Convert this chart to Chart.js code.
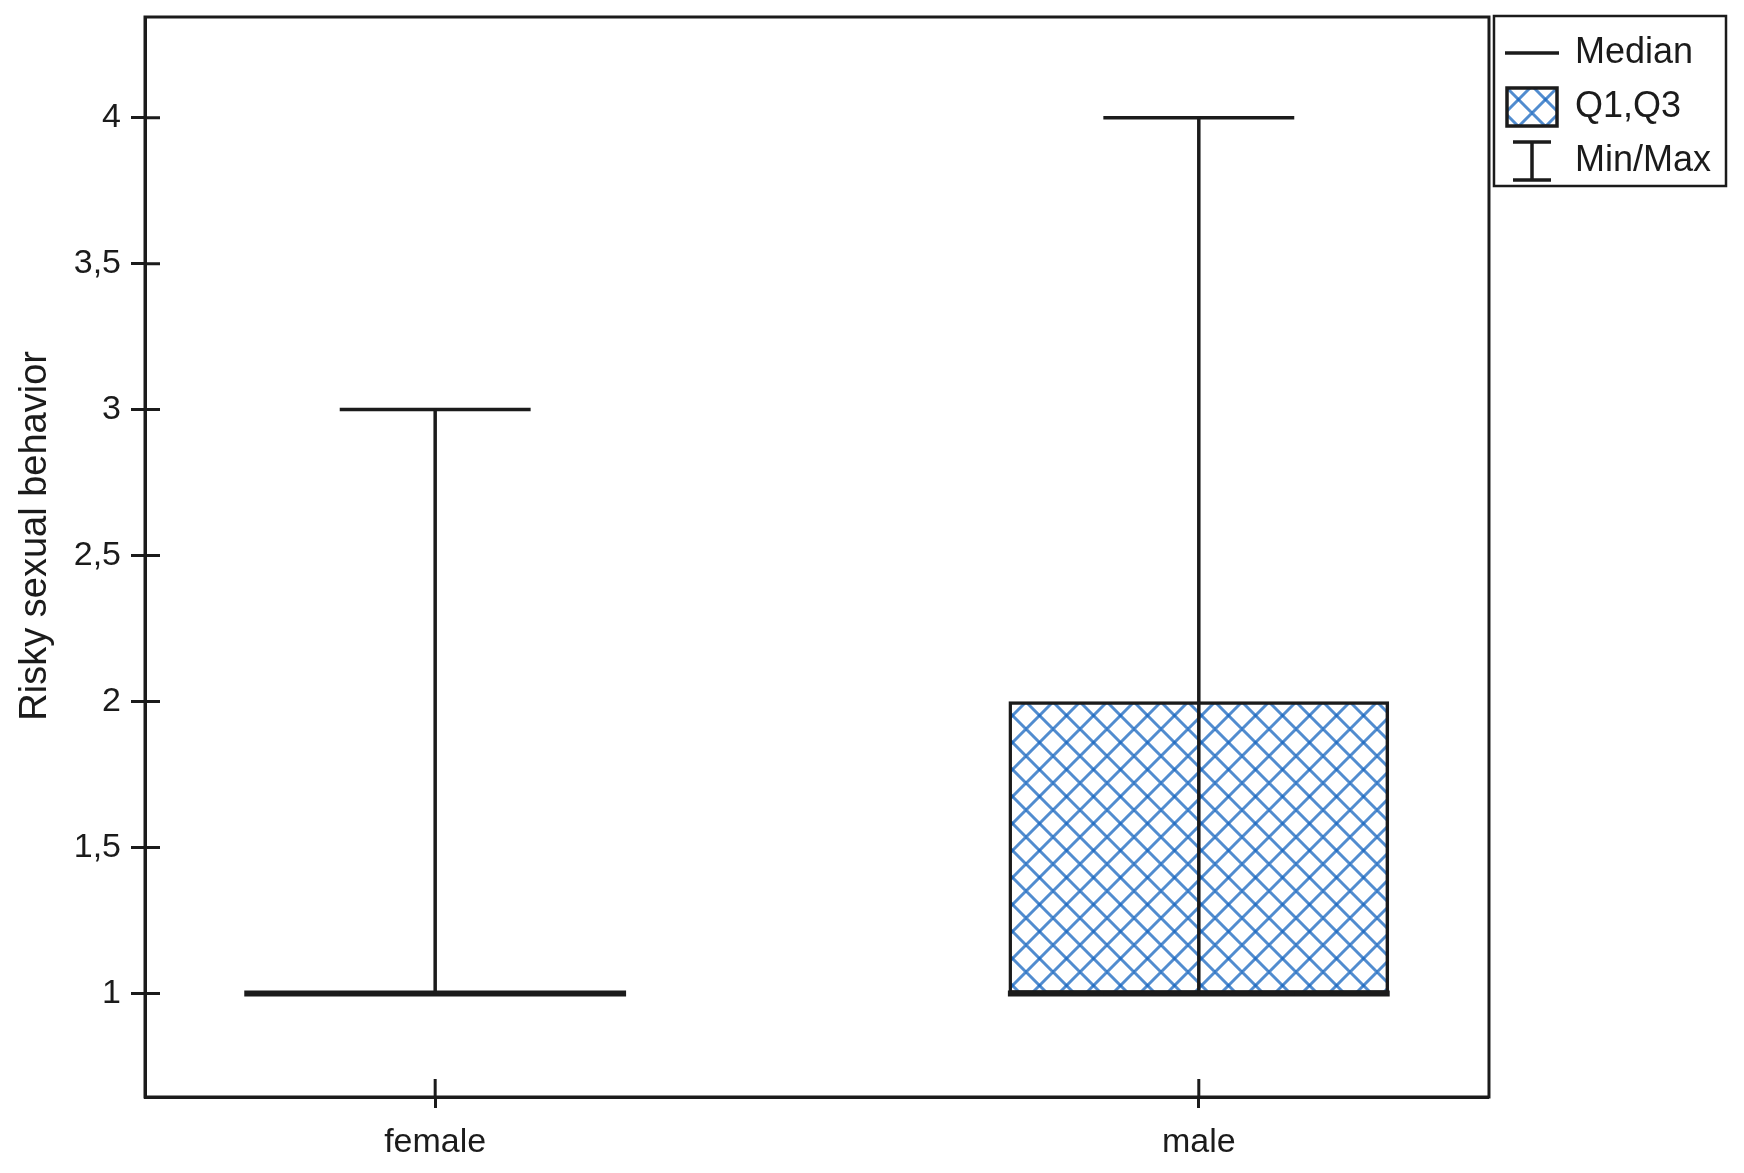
<!DOCTYPE html>
<html>
<head>
<meta charset="utf-8">
<script src="https://cdn.jsdelivr.net/npm/chart.js@4.4.1/dist/chart.umd.min.js"></script>
<style>
    html, body { margin: 0; padding: 0; background: #fff; }
    #wrap { width: 1744px; height: 1173px; }
</style>
</head>
<body>
<div id="wrap"><canvas id="chartBox"></canvas></div>
<script>
// values
const categories = ["female", "male"];
const minValues = [1, 1];
const q1Values = [1, 1];
const medianValues = [1, 1];
const q3Values = [1, 2];
const maxValues = [3, 4];
const yTickValues = [1, 1.5, 2, 2.5, 3, 3.5, 4];
const legendNames = ["Median", "Q1,Q3", "Min/Max"];

const ink = "#1b1b1b";
const BOX_HALF = 0.25;
const CAP_HALF = 0.125;

Chart.defaults.font.family = "'Liberation Sans', Arial, sans-serif";
Chart.defaults.color = ink;

// blue cross hatch used for the Q1-Q3 box
function makeHatch(size) {
    const c = document.createElement("canvas");
    c.width = size;
    c.height = size;
    const g = c.getContext("2d");
    g.fillStyle = "#fff";
    g.fillRect(0, 0, size, size);
    g.strokeStyle = "rgba(20,100,190,0.74)";
    g.lineWidth = 3;
    g.beginPath();
    for (let k = -1; k <= 1; k++) {
        g.moveTo(k * size, 0);
        g.lineTo(k * size + size, size);
    }
    g.stroke();
    g.beginPath();
    for (let k = -1; k <= 1; k++) {
        g.moveTo(k * size + size, 0);
        g.lineTo(k * size, size);
    }
    g.stroke();
    return g.createPattern(c, "repeat");
}
const hatch = makeHatch(27);

// legend symbols
function icon(w, h, draw) {
    const c = document.createElement("canvas");
    c.width = w;
    c.height = h;
    const g = c.getContext("2d");
    g.strokeStyle = ink;
    g.lineWidth = 3.5;
    draw(g, w, h);
    return c;
}
const legendIcons = [
    icon(54, 6, (g, w, h) => {
        g.beginPath();
        g.moveTo(0, h / 2);
        g.lineTo(w, h / 2);
        g.stroke();
    }),
    icon(54, 42, (g, w, h) => {
        g.fillStyle = hatch;
        g.fillRect(2, 2, w - 4, h - 4);
        g.strokeRect(2, 2, w - 4, h - 4);
    }),
    icon(40, 42, (g, w, h) => {
        g.beginPath();
        g.moveTo(1, 2);
        g.lineTo(w - 1, 2);
        g.moveTo(w / 2, 2);
        g.lineTo(w / 2, h - 2);
        g.moveTo(1, h - 2);
        g.lineTo(w - 1, h - 2);
        g.stroke();
    }),
];

function segments(fn) {
    const pts = [];
    categories.forEach((c, i) => {
        pts.push(...fn(i + 1, i), { x: i + 1, y: null });
    });
    return pts;
}

const boxData = categories.map((c, i) => ({ x: i + 1, y: [q1Values[i], q3Values[i]] }));
const medianData = segments((x, i) => [
    { x: x - BOX_HALF, y: medianValues[i] },
    { x: x + BOX_HALF, y: medianValues[i] },
]);
const whiskerData = segments((x, i) => [
    { x: x, y: minValues[i] },
    { x: x, y: maxValues[i] },
]);
const capData = segments((x, i) => [
    { x: x - CAP_HALF, y: maxValues[i] },
    { x: x + CAP_HALF, y: maxValues[i] },
    { x: x, y: null },
    { x: x - CAP_HALF, y: minValues[i] },
    { x: x + CAP_HALF, y: minValues[i] },
]);

// frame, inward tick halves and legend border
const framePlugin = {
    id: "frame",
    afterDraw(chart) {
        const { ctx, chartArea: a, scales } = chart;
        ctx.save();
        ctx.strokeStyle = ink;
        ctx.lineWidth = 3;
        ctx.strokeRect(a.left, a.top, a.right - a.left, a.bottom - a.top);
        ctx.beginPath();
        scales.y.ticks.forEach((t) => {
            const py = scales.y.getPixelForValue(t.value);
            ctx.moveTo(a.left, py);
            ctx.lineTo(a.left + 15, py);
        });
        scales.x.ticks.forEach((t) => {
            const px = scales.x.getPixelForValue(t.value);
            ctx.moveTo(px, a.bottom);
            ctx.lineTo(px, a.bottom - 18);
        });
        ctx.stroke();
        const lg = chart.legend;
        const boxes = lg.legendHitBoxes;
        const last = boxes[boxes.length - 1];
        ctx.lineWidth = 2.5;
        ctx.strokeRect(lg.left + 5, lg.top - 1, lg.right - lg.left, last.top + last.height + 8 - lg.top);
        ctx.restore();
    },
};

const lineStyle = {
    type: "line",
    borderColor: ink,
    borderWidth: 3.5,
    pointRadius: 0,
    pointHoverRadius: 0,
    spanGaps: false,
    tension: 0,
    order: 1,
};

new Chart(document.getElementById("chartBox"), {
    type: "bar",
    data: {
        datasets: [
            {
                label: "Q1,Q3",
                data: boxData,
                backgroundColor: hatch,
                borderColor: ink,
                borderWidth: 3.5,
                borderSkipped: false,
                barThickness: 380,
                order: 2,
            },
            Object.assign({}, lineStyle, { label: "Min/Max", data: whiskerData }),
            Object.assign({}, lineStyle, { label: "caps", data: capData }),
            Object.assign({}, lineStyle, { label: "Median", data: medianData, borderWidth: 6 }),
        ],
    },
    options: {
        responsive: true,
        maintainAspectRatio: false,
        animation: false,
        layout: {
            padding: { left: 0, top: 17, right: 23, bottom: 10 },
        },
        plugins: {
            tooltip: { enabled: false },
            legend: {
                position: "right",
                align: "start",
                onClick: null,
                labels: {
                    usePointStyle: true,
                    pointStyleWidth: 50,
                    padding: 18,
                    color: ink,
                    font: { size: 36 },
                    generateLabels: () =>
                        legendNames.map((t, i) => ({
                            text: t,
                            pointStyle: legendIcons[i],
                            fillStyle: "transparent",
                            strokeStyle: "transparent",
                            lineWidth: 0,
                            hidden: false,
                            fontColor: ink,
                        })),
                },
            },
        },
        scales: {
            x: {
                type: "linear",
                offset: false,
                min: 0.62,
                max: 2.38,
                afterBuildTicks: (axis) => {
                    axis.ticks = categories.map((c, i) => ({ value: i + 1 }));
                },
                afterFit: (axis) => {
                    axis.height = 66;
                },
                ticks: {
                    padding: 14,
                    font: { size: 34 },
                    color: ink,
                    callback: (v) => categories[v - 1],
                },
                grid: {
                    offset: false,
                    drawOnChartArea: false,
                    drawTicks: true,
                    tickLength: 11,
                    tickWidth: 3,
                    color: ink,
                },
                border: { display: true, color: ink, width: 3 },
            },
            y: {
                type: "linear",
                min: 0.645,
                max: 4.345,
                afterBuildTicks: (axis) => {
                    axis.ticks = yTickValues.map((v) => ({ value: v }));
                },
                afterFit: (axis) => {
                    axis.paddingTop = 0;
                    axis.paddingBottom = 0;
                    axis.width = 145;
                },
                title: {
                    display: true,
                    // leading spaces lift the rotated title a little above the axis middle
                    text: "    Risky sexual behavior",
                    font: { size: 38 },
                    color: ink,
                    padding: { top: 13, bottom: 18 },
                },
                ticks: {
                    padding: 10,
                    font: { size: 34 },
                    color: ink,
                    callback: (v) => String(v).replace(".", ","),
                },
                grid: {
                    drawOnChartArea: false,
                    drawTicks: true,
                    tickLength: 14,
                    tickWidth: 3,
                    color: ink,
                },
                border: { display: true, color: ink, width: 3 },
            },
        },
    },
    plugins: [framePlugin],
});
</script>
</body>
</html>
